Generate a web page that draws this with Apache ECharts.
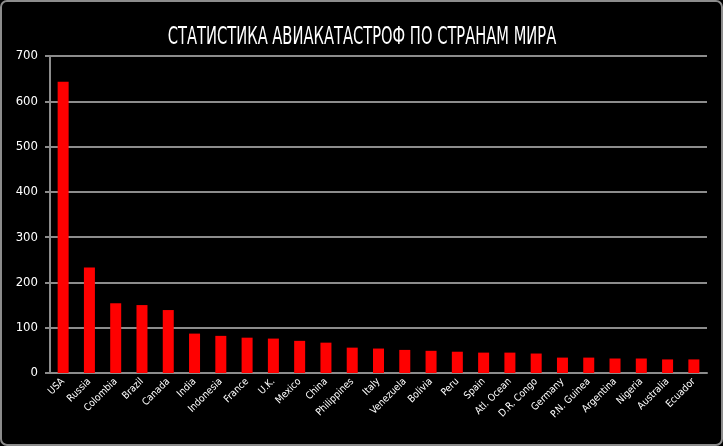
<!DOCTYPE html>
<html>
<head>
<meta charset="utf-8">
<script src="https://cdn.jsdelivr.net/npm/echarts@6/dist/echarts.min.js"></script>
<style>
  html, body { margin: 0; padding: 0; background: #000; }
  #chart { width: 723px; height: 446px; }
</style>
</head>
<body>
<div id="chart"></div>
<script>
// Countries and number of air crashes
const countries = ['USA', 'Russia', 'Colombia', 'Brazil', 'Canada', 'India', 'Indonesia', 'France',
  'U.K.', 'Mexico', 'China', 'Philippines', 'Italy', 'Venezuela', 'Bolivia', 'Peru', 'Spain',
  'Atl. Ocean', 'D.R. Congo', 'Germany', 'P.N. Guinea', 'Argentina', 'Nigeria', 'Australia', 'Ecuador'];
const crashes = [643, 233, 154, 150, 139, 87, 82, 78, 76, 71, 67, 56, 54, 51, 49, 47, 45, 45, 43, 34, 34, 32, 32, 30, 30];
const yTicks = [0, 100, 200, 300, 400, 500, 600, 700];
const titleText = 'СТАТИСТИКА АВИАКАТАСТРОФ ПО СТРАНАМ МИРА';

const FONT = '"DejaVu Sans Condensed", "Liberation Sans Narrow", "Noto Sans", sans-serif';
const GRAY = '#8c8c8c';

const chart = echarts.init(document.getElementById('chart'));

const option = {
  backgroundColor: '#000',
  animation: false,
  graphic: [{
    type: 'rect',
    shape: { x: 1, y: 1, width: 721, height: 444, r: 6 },
    style: { fill: 'none', stroke: GRAY, lineWidth: 2 },
    silent: true
  }, {
    // title squeezed horizontally, like the narrow font of the original
    type: 'text',
    x: 362,
    y: 38,
    scaleX: 0.68,
    style: {
      text: titleText,
      fill: '#fff',
      font: '24px ' + FONT,
      textAlign: 'center',
      textVerticalAlign: 'middle'
    },
    silent: true
  }],
  grid: { left: 50, right: 16, top: 56, bottom: 73 },
  xAxis: {
    type: 'category',
    data: countries,
    axisLine: { lineStyle: { color: GRAY, width: 2 } },
    axisTick: { length: 5, lineStyle: { color: GRAY, width: 2 } },
    axisLabel: {
      interval: 0,
      rotate: 45,
      margin: 7,
      color: '#fff',
      fontFamily: FONT,
      fontSize: 10
    }
  },
  yAxis: {
    type: 'value',
    min: yTicks[0],
    max: yTicks[yTicks.length - 1],
    interval: 100,
    axisLine: { show: true, lineStyle: { color: GRAY, width: 2 } },
    axisTick: { show: true, length: 5, lineStyle: { color: GRAY, width: 2 } },
    splitLine: { lineStyle: { color: GRAY, width: 2 } },
    axisLabel: { color: '#fff', fontFamily: FONT, fontSize: 13, margin: 12 }
  },
  series: [{
    type: 'bar',
    data: crashes,
    barWidth: 11,
    itemStyle: { color: '#ff0000' }
  }]
};

chart.setOption(option);
</script>
</body>
</html>
